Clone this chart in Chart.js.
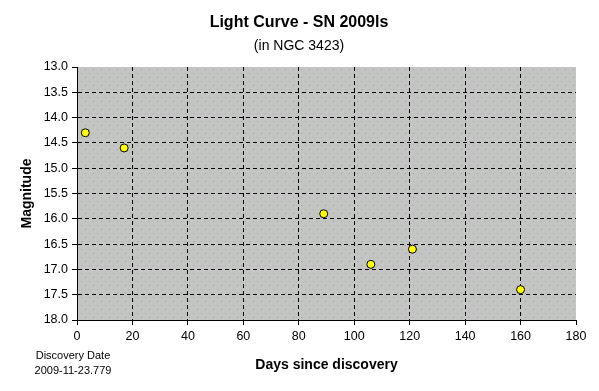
<!DOCTYPE html>
<html>
<head>
<meta charset="utf-8">
<script src="https://cdn.jsdelivr.net/npm/chart.js@4"></script>
<style>
  html, body { margin: 0; padding: 0; background: #fff; }
  #wrap { width: 599px; height: 391px; }
</style>
</head>
<body>
<div id="wrap"><canvas id="c" width="599" height="391"></canvas></div>
<script>
// dados
const days = [3, 17, 89, 106, 121, 160];
const magnitudes = [14.3, 14.6, 15.9, 16.9, 16.6, 17.4];
const xTicks = [0, 20, 40, 60, 80, 100, 120, 140, 160, 180];
const yTicks = [13.0, 13.5, 14.0, 14.5, 15.0, 15.5, 16.0, 16.5, 17.0, 17.5, 18.0];

const FONT = 'Liberation Sans, Arial, sans-serif';

// textura cinza com pontinhos verdes
function makePattern(ctx) {
  const p = document.createElement('canvas');
  p.width = 8; p.height = 8;
  const g = p.getContext('2d');
  g.fillStyle = '#c4c4c4';
  g.fillRect(0, 0, 8, 8);
  g.fillStyle = '#8fb88f';
  g.fillRect(1, 1, 1, 1);
  g.fillRect(5, 5, 1, 1);
  return ctx.createPattern(p, 'repeat');
}

const bgPlugin = {
  id: 'bg',
  beforeDraw(chart) {
    const { ctx, chartArea: a } = chart;
    ctx.save();
    ctx.fillStyle = makePattern(ctx);
    ctx.fillRect(a.left, a.top, a.right - a.left, a.bottom - a.top);
    ctx.restore();
  },
  afterDraw(chart) {
    const ctx = chart.ctx;
    ctx.save();
    ctx.fillStyle = '#000';
    ctx.textAlign = 'center';
    ctx.textBaseline = 'middle';
    ctx.font = 'bold 16px ' + FONT;
    ctx.fillText('Light Curve - SN 2009ls', 299, 23);
    ctx.font = '14px ' + FONT;
    ctx.fillText('(in NGC 3423)', 299, 46);
    ctx.font = '11px ' + FONT;
    ctx.fillText('Discovery Date', 73, 356);
    ctx.fillText('2009-11-23.779', 73, 371);
    ctx.restore();
  }
};

const data = {
  datasets: [{
    label: 'SN 2009ls',
    data: days.map((d, i) => ({ x: d, y: magnitudes[i] })),
    pointStyle: 'circle',
    pointRadius: 4,
    pointBackgroundColor: '#ffff00',
    pointBorderColor: '#000',
    pointBorderWidth: 1,
    showLine: false
  }]
};

const options = {
  responsive: false,
  animation: false,
  layout: { padding: { top: 67, right: 23, left: 0, bottom: 0 } },
  plugins: {
    legend: { display: false },
    tooltip: { enabled: false }
  },
  scales: {
    x: {
      type: 'linear',
      min: 0, max: 180,
      afterFit: s => { s.height = 71; },
      afterBuildTicks: s => { s.ticks = xTicks.map(v => ({ value: v })); },
      border: { color: '#000', width: 1, dash: [4, 3] },
      grid: { color: c => (c.tick && c.tick.value === 180) ? 'rgba(0,0,0,0)' : '#000',
              tickColor: '#000', tickBorderDash: [0, 0], tickLength: 5 },
      ticks: { color: '#000', font: { family: FONT, size: 12.5 }, padding: 4, maxRotation: 0 },
      title: { display: true, text: 'Days since discovery', color: '#000',
               font: { family: FONT, size: 14, weight: 'bold' }, padding: { top: 0, bottom: 17 } }
    },
    y: {
      type: 'linear',
      reverse: true,
      min: 13, max: 18,
      afterFit: s => { s.width = 77; },
      afterBuildTicks: s => { s.ticks = yTicks.map(v => ({ value: v })); },
      border: { color: '#000', width: 1, dash: [4, 3] },
      grid: { color: c => (c.tick && c.tick.value === 13) ? 'rgba(0,0,0,0)' : '#000',
              tickColor: '#000', tickBorderDash: [0, 0], tickLength: 5 },
      ticks: { color: '#000', font: { family: FONT, size: 12.5 }, padding: 4,
               callback: v => Number(v).toFixed(1) },
      title: { display: true, text: 'Magnitude', color: '#000',
               font: { family: FONT, size: 14, weight: 'bold' }, padding: { top: 19, bottom: 0 } }
    }
  }
};

new Chart(document.getElementById('c').getContext('2d'), {
  type: 'scatter', data, options, plugins: [bgPlugin]
});
</script>
</body>
</html>
